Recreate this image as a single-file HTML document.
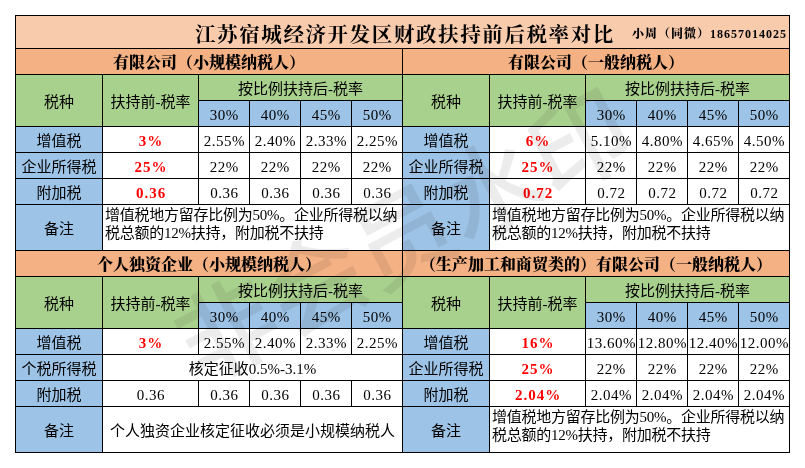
<!DOCTYPE html>
<html lang="zh-CN"><head><meta charset="utf-8"><title>江苏宿城经济开发区财政扶持前后税率对比</title>
<style>
html,body{margin:0;padding:0;background:#fff;}
body{width:805px;height:468px;position:relative;overflow:hidden;font-family:"Liberation Serif","Noto Sans CJK SC",sans-serif;font-size:15px;color:#000;}
#grid{position:absolute;left:15px;top:15px;width:775px;height:438px;background:#000;}
.c{position:absolute;display:flex;align-items:center;justify-content:center;white-space:nowrap;box-sizing:border-box;line-height:18px;overflow:hidden;padding-top:2px;}
.c.sec{font-family:"Liberation Serif","Noto Serif CJK SC",serif;font-weight:900;font-size:16px;padding-top:3px;}
.c.red{color:#FF0000;font-weight:bold;font-family:"Liberation Serif","Noto Serif CJK SC",serif;}
.c.note{justify-content:flex-start;align-items:flex-start;padding-left:2px;padding-top:1px;line-height:18px;white-space:normal;letter-spacing:-0.25px;}
.c.note span{display:block;width:296px;}
.c.title{justify-content:flex-start;padding-top:0;}
.c.n{padding-top:3px;letter-spacing:.5px;padding-left:.5px;}
.c.red{letter-spacing:1px;padding-top:2px;padding-left:1px;}
.wm{position:absolute;left:404px;top:238px;transform:translate(-50%,-50%) rotate(-28deg);font-family:"Liberation Sans","Noto Sans CJK SC",sans-serif;font-size:100px;line-height:110px;letter-spacing:0;white-space:nowrap;font-weight:500;color:rgba(0,0,0,0.075);pointer-events:none;}
.tt{position:absolute;left:179px;top:3.5px;font-family:"Liberation Serif","Noto Serif CJK SC",serif;font-weight:700;font-size:20.5px;letter-spacing:1.6px;line-height:30px;}
.ph{position:absolute;left:616px;top:10px;letter-spacing:1px;font-family:"Liberation Serif","Noto Serif CJK SC",serif;font-weight:900;font-size:12px;line-height:16px;}
</style></head><body>
<div id="grid"></div>
<div class="c title" style="left:16px;top:16px;width:773px;height:32px;background:#F8CBAD"><span class="tt">江苏宿城经济开发区财政扶持前后税率对比</span><span class="ph">小周（同微）18657014025</span></div>
<div class="c sec" style="left:16px;top:49px;width:386px;height:25px;background:#F4B183"><span>有限公司（小规模纳税人）</span></div>
<div class="c " style="left:16px;top:75px;width:86px;height:51px;background:#A9D18E"><span>税种</span></div>
<div class="c " style="left:103px;top:75px;width:95px;height:51px;background:#A9D18E"><span>扶持前-税率</span></div>
<div class="c " style="left:199px;top:75px;width:203px;height:25px;background:#A9D18E"><span>按比例扶持后-税率</span></div>
<div class="c n" style="left:199px;top:101px;width:50px;height:25px;background:#9DC3E6"><span>30%</span></div>
<div class="c n" style="left:250px;top:101px;width:50px;height:25px;background:#9DC3E6"><span>40%</span></div>
<div class="c n" style="left:301px;top:101px;width:50px;height:25px;background:#9DC3E6"><span>45%</span></div>
<div class="c n" style="left:352px;top:101px;width:50px;height:25px;background:#9DC3E6"><span>50%</span></div>
<div class="c " style="left:16px;top:127px;width:86px;height:25px;background:#9DC3E6"><span>增值税</span></div>
<div class="c red" style="left:103px;top:127px;width:95px;height:25px;background:#FFFFFF"><span>3%</span></div>
<div class="c n" style="left:199px;top:127px;width:50px;height:25px;background:#FFFFFF"><span>2.55%</span></div>
<div class="c n" style="left:250px;top:127px;width:50px;height:25px;background:#FFFFFF"><span>2.40%</span></div>
<div class="c n" style="left:301px;top:127px;width:50px;height:25px;background:#FFFFFF"><span>2.33%</span></div>
<div class="c n" style="left:352px;top:127px;width:50px;height:25px;background:#FFFFFF"><span>2.25%</span></div>
<div class="c " style="left:16px;top:153px;width:86px;height:25px;background:#9DC3E6"><span>企业所得税</span></div>
<div class="c red" style="left:103px;top:153px;width:95px;height:25px;background:#FFFFFF"><span>25%</span></div>
<div class="c n" style="left:199px;top:153px;width:50px;height:25px;background:#FFFFFF"><span>22%</span></div>
<div class="c n" style="left:250px;top:153px;width:50px;height:25px;background:#FFFFFF"><span>22%</span></div>
<div class="c n" style="left:301px;top:153px;width:50px;height:25px;background:#FFFFFF"><span>22%</span></div>
<div class="c n" style="left:352px;top:153px;width:50px;height:25px;background:#FFFFFF"><span>22%</span></div>
<div class="c " style="left:16px;top:179px;width:86px;height:25px;background:#9DC3E6"><span>附加税</span></div>
<div class="c red" style="left:103px;top:179px;width:95px;height:25px;background:#FFFFFF"><span>0.36</span></div>
<div class="c n" style="left:199px;top:179px;width:50px;height:25px;background:#FFFFFF"><span>0.36</span></div>
<div class="c n" style="left:250px;top:179px;width:50px;height:25px;background:#FFFFFF"><span>0.36</span></div>
<div class="c n" style="left:301px;top:179px;width:50px;height:25px;background:#FFFFFF"><span>0.36</span></div>
<div class="c n" style="left:352px;top:179px;width:50px;height:25px;background:#FFFFFF"><span>0.36</span></div>
<div class="c " style="left:16px;top:205px;width:86px;height:45px;background:#9DC3E6"><span>备注</span></div>
<div class="c note" style="left:103px;top:205px;width:299px;height:45px;background:#FFFFFF"><span>增值税地方留存比例为50%。企业所得税以纳税总额的12%扶持，附加税不扶持</span></div>
<div class="c sec" style="left:403px;top:49px;width:386px;height:25px;background:#F4B183"><span>有限公司（一般纳税人）</span></div>
<div class="c " style="left:403px;top:75px;width:86px;height:51px;background:#A9D18E"><span>税种</span></div>
<div class="c " style="left:490px;top:75px;width:95px;height:51px;background:#A9D18E"><span>扶持前-税率</span></div>
<div class="c " style="left:586px;top:75px;width:203px;height:25px;background:#A9D18E"><span>按比例扶持后-税率</span></div>
<div class="c n" style="left:586px;top:101px;width:50px;height:25px;background:#9DC3E6"><span>30%</span></div>
<div class="c n" style="left:637px;top:101px;width:50px;height:25px;background:#9DC3E6"><span>40%</span></div>
<div class="c n" style="left:688px;top:101px;width:50px;height:25px;background:#9DC3E6"><span>45%</span></div>
<div class="c n" style="left:739px;top:101px;width:50px;height:25px;background:#9DC3E6"><span>50%</span></div>
<div class="c " style="left:403px;top:127px;width:86px;height:25px;background:#9DC3E6"><span>增值税</span></div>
<div class="c red" style="left:490px;top:127px;width:95px;height:25px;background:#FFFFFF"><span>6%</span></div>
<div class="c n" style="left:586px;top:127px;width:50px;height:25px;background:#FFFFFF"><span>5.10%</span></div>
<div class="c n" style="left:637px;top:127px;width:50px;height:25px;background:#FFFFFF"><span>4.80%</span></div>
<div class="c n" style="left:688px;top:127px;width:50px;height:25px;background:#FFFFFF"><span>4.65%</span></div>
<div class="c n" style="left:739px;top:127px;width:50px;height:25px;background:#FFFFFF"><span>4.50%</span></div>
<div class="c " style="left:403px;top:153px;width:86px;height:25px;background:#9DC3E6"><span>企业所得税</span></div>
<div class="c red" style="left:490px;top:153px;width:95px;height:25px;background:#FFFFFF"><span>25%</span></div>
<div class="c n" style="left:586px;top:153px;width:50px;height:25px;background:#FFFFFF"><span>22%</span></div>
<div class="c n" style="left:637px;top:153px;width:50px;height:25px;background:#FFFFFF"><span>22%</span></div>
<div class="c n" style="left:688px;top:153px;width:50px;height:25px;background:#FFFFFF"><span>22%</span></div>
<div class="c n" style="left:739px;top:153px;width:50px;height:25px;background:#FFFFFF"><span>22%</span></div>
<div class="c " style="left:403px;top:179px;width:86px;height:25px;background:#9DC3E6"><span>附加税</span></div>
<div class="c red" style="left:490px;top:179px;width:95px;height:25px;background:#FFFFFF"><span>0.72</span></div>
<div class="c n" style="left:586px;top:179px;width:50px;height:25px;background:#FFFFFF"><span>0.72</span></div>
<div class="c n" style="left:637px;top:179px;width:50px;height:25px;background:#FFFFFF"><span>0.72</span></div>
<div class="c n" style="left:688px;top:179px;width:50px;height:25px;background:#FFFFFF"><span>0.72</span></div>
<div class="c n" style="left:739px;top:179px;width:50px;height:25px;background:#FFFFFF"><span>0.72</span></div>
<div class="c " style="left:403px;top:205px;width:86px;height:45px;background:#9DC3E6"><span>备注</span></div>
<div class="c note" style="left:490px;top:205px;width:299px;height:45px;background:#FFFFFF"><span>增值税地方留存比例为50%。企业所得税以纳税总额的12%扶持，附加税不扶持</span></div>
<div class="c sec" style="left:16px;top:251px;width:386px;height:25px;background:#F4B183"><span>个人独资企业（小规模纳税人）</span></div>
<div class="c " style="left:16px;top:277px;width:86px;height:51px;background:#A9D18E"><span>税种</span></div>
<div class="c " style="left:103px;top:277px;width:95px;height:51px;background:#A9D18E"><span>扶持前-税率</span></div>
<div class="c " style="left:199px;top:277px;width:203px;height:25px;background:#A9D18E"><span>按比例扶持后-税率</span></div>
<div class="c n" style="left:199px;top:303px;width:50px;height:25px;background:#9DC3E6"><span>30%</span></div>
<div class="c n" style="left:250px;top:303px;width:50px;height:25px;background:#9DC3E6"><span>40%</span></div>
<div class="c n" style="left:301px;top:303px;width:50px;height:25px;background:#9DC3E6"><span>45%</span></div>
<div class="c n" style="left:352px;top:303px;width:50px;height:25px;background:#9DC3E6"><span>50%</span></div>
<div class="c " style="left:16px;top:329px;width:86px;height:25px;background:#9DC3E6"><span>增值税</span></div>
<div class="c red" style="left:103px;top:329px;width:95px;height:25px;background:#FFFFFF"><span>3%</span></div>
<div class="c n" style="left:199px;top:329px;width:50px;height:25px;background:#FFFFFF"><span>2.55%</span></div>
<div class="c n" style="left:250px;top:329px;width:50px;height:25px;background:#FFFFFF"><span>2.40%</span></div>
<div class="c n" style="left:301px;top:329px;width:50px;height:25px;background:#FFFFFF"><span>2.33%</span></div>
<div class="c n" style="left:352px;top:329px;width:50px;height:25px;background:#FFFFFF"><span>2.25%</span></div>
<div class="c " style="left:16px;top:355px;width:86px;height:25px;background:#9DC3E6"><span>个税所得税</span></div>
<div class="c " style="left:103px;top:355px;width:299px;height:25px;background:#FFFFFF"><span>核定征收0.5%-3.1%</span></div>
<div class="c " style="left:16px;top:381px;width:86px;height:25px;background:#9DC3E6"><span>附加税</span></div>
<div class="c n" style="left:103px;top:381px;width:95px;height:25px;background:#FFFFFF"><span>0.36</span></div>
<div class="c n" style="left:199px;top:381px;width:50px;height:25px;background:#FFFFFF"><span>0.36</span></div>
<div class="c n" style="left:250px;top:381px;width:50px;height:25px;background:#FFFFFF"><span>0.36</span></div>
<div class="c n" style="left:301px;top:381px;width:50px;height:25px;background:#FFFFFF"><span>0.36</span></div>
<div class="c n" style="left:352px;top:381px;width:50px;height:25px;background:#FFFFFF"><span>0.36</span></div>
<div class="c " style="left:16px;top:407px;width:86px;height:45px;background:#9DC3E6"><span>备注</span></div>
<div class="c " style="left:103px;top:407px;width:299px;height:45px;background:#FFFFFF"><span>个人独资企业核定征收必须是小规模纳税人</span></div>
<div class="c sec" style="left:403px;top:251px;width:386px;height:25px;background:#F4B183"><span>（生产加工和商贸类的）有限公司（一般纳税人）</span></div>
<div class="c " style="left:403px;top:277px;width:86px;height:51px;background:#A9D18E"><span>税种</span></div>
<div class="c " style="left:490px;top:277px;width:95px;height:51px;background:#A9D18E"><span>扶持前-税率</span></div>
<div class="c " style="left:586px;top:277px;width:203px;height:25px;background:#A9D18E"><span>按比例扶持后-税率</span></div>
<div class="c n" style="left:586px;top:303px;width:50px;height:25px;background:#9DC3E6"><span>30%</span></div>
<div class="c n" style="left:637px;top:303px;width:50px;height:25px;background:#9DC3E6"><span>40%</span></div>
<div class="c n" style="left:688px;top:303px;width:50px;height:25px;background:#9DC3E6"><span>45%</span></div>
<div class="c n" style="left:739px;top:303px;width:50px;height:25px;background:#9DC3E6"><span>50%</span></div>
<div class="c " style="left:403px;top:329px;width:86px;height:25px;background:#9DC3E6"><span>增值税</span></div>
<div class="c red" style="left:490px;top:329px;width:95px;height:25px;background:#FFFFFF"><span>16%</span></div>
<div class="c n" style="left:586px;top:329px;width:50px;height:25px;background:#FFFFFF"><span>13.60%</span></div>
<div class="c n" style="left:637px;top:329px;width:50px;height:25px;background:#FFFFFF"><span>12.80%</span></div>
<div class="c n" style="left:688px;top:329px;width:50px;height:25px;background:#FFFFFF"><span>12.40%</span></div>
<div class="c n" style="left:739px;top:329px;width:50px;height:25px;background:#FFFFFF"><span>12.00%</span></div>
<div class="c " style="left:403px;top:355px;width:86px;height:25px;background:#9DC3E6"><span>企业所得税</span></div>
<div class="c red" style="left:490px;top:355px;width:95px;height:25px;background:#FFFFFF"><span>25%</span></div>
<div class="c n" style="left:586px;top:355px;width:50px;height:25px;background:#FFFFFF"><span>22%</span></div>
<div class="c n" style="left:637px;top:355px;width:50px;height:25px;background:#FFFFFF"><span>22%</span></div>
<div class="c n" style="left:688px;top:355px;width:50px;height:25px;background:#FFFFFF"><span>22%</span></div>
<div class="c n" style="left:739px;top:355px;width:50px;height:25px;background:#FFFFFF"><span>22%</span></div>
<div class="c " style="left:403px;top:381px;width:86px;height:25px;background:#9DC3E6"><span>附加税</span></div>
<div class="c red" style="left:490px;top:381px;width:95px;height:25px;background:#FFFFFF"><span>2.04%</span></div>
<div class="c n" style="left:586px;top:381px;width:50px;height:25px;background:#FFFFFF"><span>2.04%</span></div>
<div class="c n" style="left:637px;top:381px;width:50px;height:25px;background:#FFFFFF"><span>2.04%</span></div>
<div class="c n" style="left:688px;top:381px;width:50px;height:25px;background:#FFFFFF"><span>2.04%</span></div>
<div class="c n" style="left:739px;top:381px;width:50px;height:25px;background:#FFFFFF"><span>2.04%</span></div>
<div class="c " style="left:403px;top:407px;width:86px;height:45px;background:#9DC3E6"><span>备注</span></div>
<div class="c note" style="left:490px;top:407px;width:299px;height:45px;background:#FFFFFF"><span>增值税地方留存比例为50%。企业所得税以纳税总额的12%扶持，附加税不扶持</span></div>
<div class="wm">非会员水印</div>
</body></html>
